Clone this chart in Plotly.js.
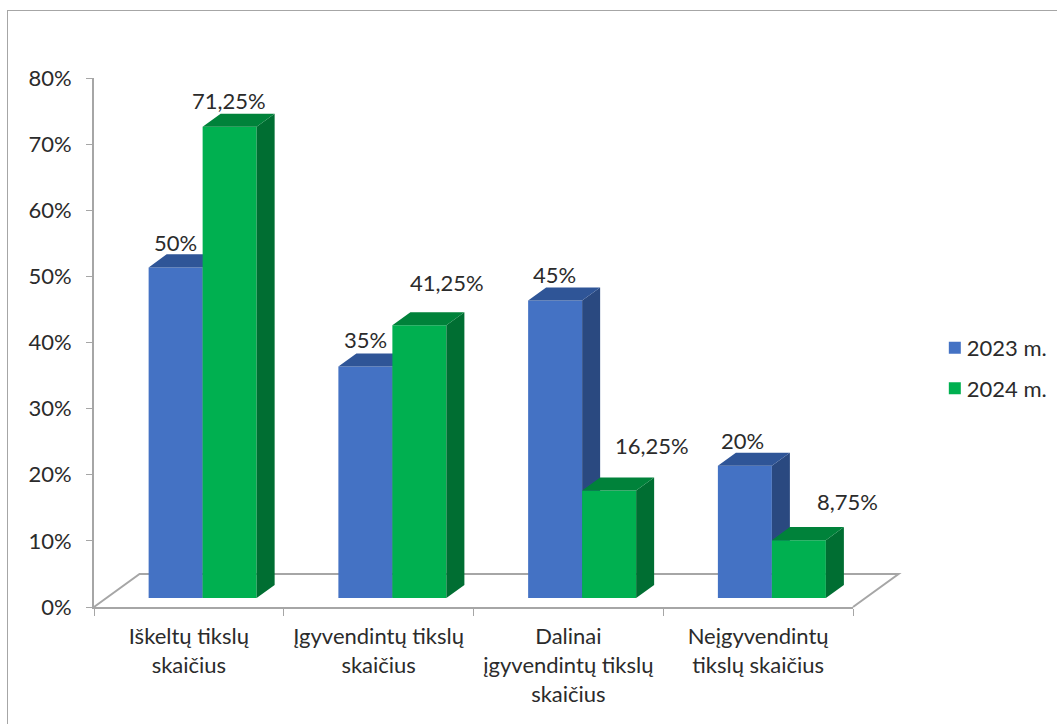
<!DOCTYPE html>
<html lang="lt">
<head>
<meta charset="utf-8">
<script src="https://cdn.plot.ly/plotly-3.0.1.min.js"></script>
<style>
  html, body { margin: 0; padding: 0; background: #fff; overflow: hidden; }
  #chart { position: absolute; left: 0; top: 0; width: 1057px; height: 724px; }
  #frame { position: absolute; left: 7px; top: 10px; width: 1200px; height: 900px;
           border: 1.5px solid #a6a6a6; pointer-events: none; }
  /* Pull the legend text closer to its colour swatch */
  .legendtext { transform: translateX(-8px); }
</style>
</head>
<body>
<div id="chart"></div>
<div id="frame"></div>
<script>
// Categories and series
const categories = [
  'Iškeltų tikslų<br>skaičius',
  'Įgyvendintų tikslų<br>skaičius',
  'Dalinai<br>įgyvendintų tikslų<br>skaičius',
  'Neįgyvendintų<br>tikslų skaičius'
];
const seriesNames = ['2023 m.', '2024 m.'];
const values2023 = [50, 35, 45, 20];
const values2024 = [71.25, 41.25, 16.25, 8.75];

// Colours of the front, side and top faces
const blueFaces = { front: '#4472c4', side: '#2a4980', top: '#2f5597' };
const greenFaces = { front: '#00b050', side: '#006e32', top: '#00823a' };
const axisColor = '#a6a6a6';
const textColor = '#2b2b2b';
const fontFamily = 'Lato, Carlito, sans-serif';

// Pseudo-3D geometry, in axis units
const barWidth = 0.2846;
const groupShift = 0.0725;
const depthX = 0.0949;
const depthY = 1.97;
const lift = 1.36;
const floorX = 0.24;
const floorY = 5;

// Pixel nudges of the value labels (right, up), per category
const shift2023 = [[0, 25], [0, 27], [-1, 26], [-2, 25]];
const shift2024 = [[-1, 26], [28, 43], [43, 45], [49, 39]];

const idx = categories.map((_, i) => i);
const left2023 = idx.map(i => i + groupShift - barWidth);
const left2024 = idx.map(i => i + groupShift);

// One polygon per bar, joined by gaps, for a side or top face
function faceTrace(lefts, vals, color, kind, yaxis) {
  const xs = [], ys = [];
  lefts.forEach((l, i) => {
    const r = l + barWidth, t = vals[i] + lift;
    if (kind === 'side') {
      xs.push(r, r + depthX, r + depthX, r, r, null);
      ys.push(lift, lift + depthY, t + depthY, t, lift, null);
    } else {
      xs.push(l, l + depthX, r + depthX, r, l, null);
      ys.push(t, t + depthY, t + depthY, t, t, null);
    }
  });
  return { type: 'scatter', mode: 'none', x: xs, y: ys, yaxis: yaxis, xaxis: 'x',
           fill: 'toself', fillcolor: color, showlegend: false, hoverinfo: 'skip', cliponaxis: false };
}

function barTrace(lefts, vals, name, color, yaxis) {
  return { type: 'bar', name: name, legendgroup: name, xaxis: 'x', yaxis: yaxis,
           x: lefts.map(l => l + barWidth / 2), y: vals,
           base: vals.map(() => lift), width: barWidth,
           marker: { color: color, line: { width: 0 } }, hoverinfo: 'skip' };
}

// The 2024 bars sit on an overlaid subplot so they hide the 2023 side faces
const traces = [
  barTrace(left2023, values2023, seriesNames[0], blueFaces.front, 'y'),
  faceTrace(left2023, values2023, blueFaces.side, 'side', 'y'),
  faceTrace(left2023, values2023, blueFaces.top, 'top', 'y'),
  barTrace(left2024, values2024, seriesNames[1], greenFaces.front, 'y2'),
  faceTrace(left2024, values2024, greenFaces.side, 'side', 'y2'),
  faceTrace(left2024, values2024, greenFaces.top, 'top', 'y2')
];

function valueLabels(lefts, vals, shifts) {
  return vals.map((v, i) => ({
    x: lefts[i] + barWidth / 2, y: v + lift, xref: 'x', yref: 'y',
    text: String(v).replace('.', ',') + '%',
    showarrow: false, xanchor: 'center', yanchor: 'middle',
    xshift: shifts[i][0], yshift: shifts[i][1],
    font: { family: fontFamily, size: 22, color: textColor }
  }));
}

// Floor of the chart, expressed as fractions of the plot area
const xRange = [-0.5, categories.length - 0.5];
const yRange = [0, 80];
const px = x => (x - xRange[0]) / (xRange[1] - xRange[0]);
const py = y => (y - yRange[0]) / (yRange[1] - yRange[0]);
const floorPath = 'M' + px(xRange[0]) + ',' + py(0) +
  ' L' + px(xRange[0] + floorX) + ',' + py(floorY) +
  ' L' + px(xRange[1] + floorX) + ',' + py(floorY) +
  ' L' + px(xRange[1]) + ',' + py(0);

const layout = {
  width: 1057, height: 724,
  margin: { l: 94, r: 204, t: 78, b: 117, pad: 0, autoexpand: false },
  paper_bgcolor: '#ffffff', plot_bgcolor: 'rgba(0,0,0,0)',
  barmode: 'overlay',
  font: { family: fontFamily, size: 22, color: textColor },
  xaxis: {
    type: 'linear', range: xRange, tickmode: 'array', tickvals: idx, ticktext: categories,
    ticks: '', showgrid: false, zeroline: false, showline: true, linecolor: axisColor, linewidth: 2,
    tickfont: { family: fontFamily, size: 22, color: textColor }, ticklabelstandoff: 9,
    minor: { tickmode: 'array', tickvals: [-0.5, 0.5, 1.5, 2.5, 3.5], ticks: 'outside',
             ticklen: 7, tickwidth: 1, tickcolor: axisColor, showgrid: false }
  },
  yaxis: {
    range: yRange, tickmode: 'linear', tick0: 0, dtick: 10, ticksuffix: '%',
    ticks: 'outside', ticklen: 6, tickwidth: 1, tickcolor: axisColor,
    showgrid: false, zeroline: false, showline: true, linecolor: axisColor, linewidth: 2,
    tickfont: { family: fontFamily, size: 22, color: textColor }, ticklabelstandoff: 10
  },
  yaxis2: { range: yRange, overlaying: 'y', visible: false },
  legend: {
    x: 1.1078, y: 0.451, xanchor: 'left', yanchor: 'middle', traceorder: 'grouped', tracegroupgap: 9,
    font: { family: fontFamily, size: 22, color: textColor }, bgcolor: 'rgba(0,0,0,0)'
  },
  shapes: [{ type: 'path', layer: 'below', xref: 'paper', yref: 'paper', path: floorPath,
             line: { color: axisColor, width: 2 } }],
  annotations: valueLabels(left2023, values2023, shift2023).concat(valueLabels(left2024, values2024, shift2024))
};

Plotly.newPlot('chart', traces, layout, { displayModeBar: false, staticPlot: true });
</script>
</body>
</html>
